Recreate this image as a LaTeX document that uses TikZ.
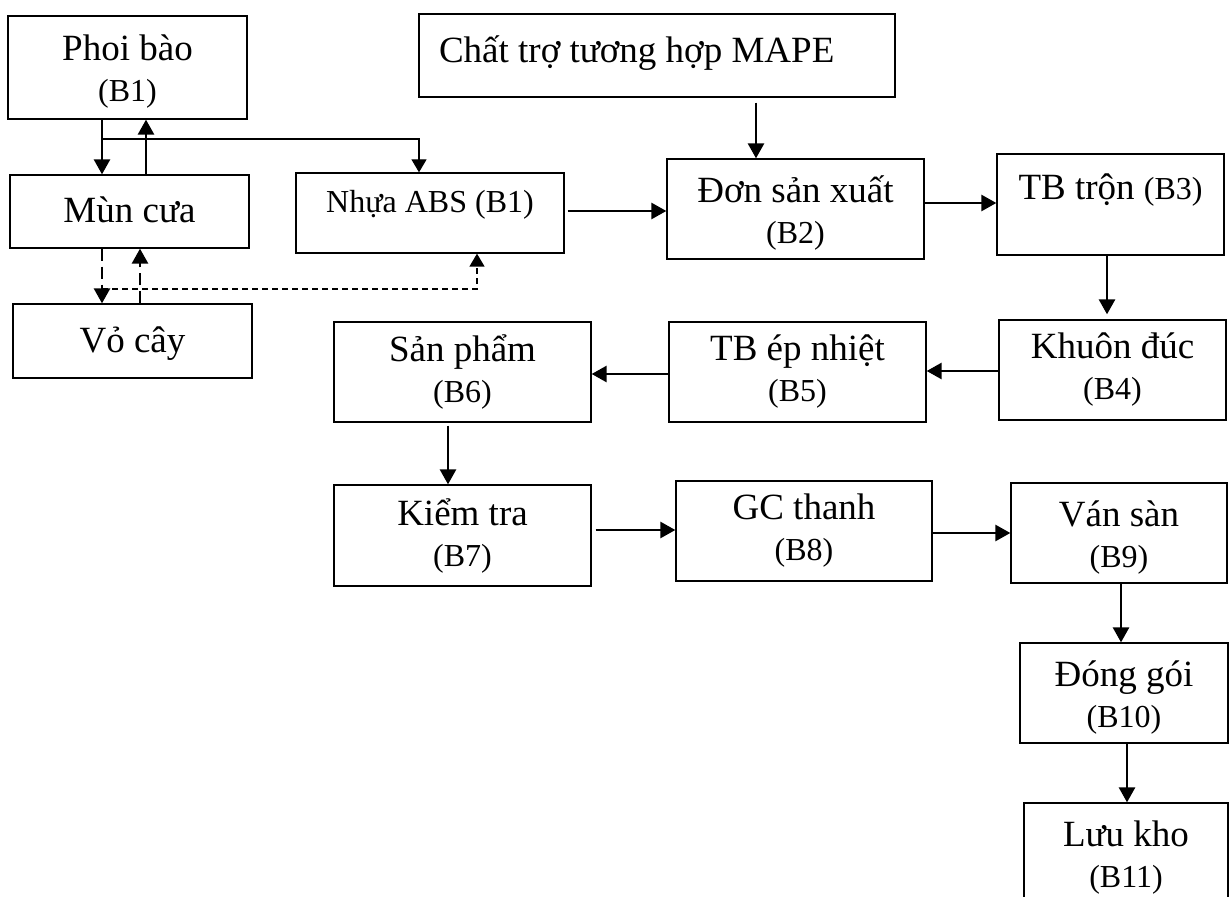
\documentclass[tikz,border=0pt]{standalone}
\usepackage{fontspec}
\setmainfont{Liberation Serif}
\usetikzlibrary{arrows.meta}
\newcommand{\mainsz}{\fontsize{18.5}{20.5}\selectfont}
\newcommand{\bsz}{\fontsize{16}{20.5}\selectfont}
\newcommand{\lnstrut}{\rule{0pt}{17pt}}
\tikzset{
  box/.style={draw, line width=0.65pt, inner sep=2pt, font=\mainsz},
  one/.style={text height=13.5pt, text depth=2pt},
  two/.style={align=center},
  arr/.style={-{Triangle[length=7.5pt,width=8pt]}, line width=1.35pt},
  thinarr/.style={-{Triangle[length=6.5pt,width=7.5pt]}, line width=0.65pt},
  dasharr/.style={arr, dash pattern=on 6pt off 3pt},
  dotarr/.style={thinarr, dash pattern=on 3pt off 2pt}
}
\begin{document}
\begin{tikzpicture}[x=0.5pt,y=-0.5pt]
    \useasboundingbox (0,0) rectangle (1229,897);
    \clip (0,0) rectangle (1229,897);
    \node[box,two,minimum width=119.5pt,minimum height=51.5pt] (phoi) at (127.5,67.5) {\lnstrut Phoi bào\\{\bsz(B1)}};
    \node[box,one,minimum width=119.5pt,minimum height=36.5pt] (mun) at (129.5,211.5) {Mùn cưa};
    \node[box,one,minimum width=119.5pt,minimum height=37pt] (vo) at (132.5,341) {Vỏ cây};
    \node[box,minimum width=134pt,minimum height=40pt,font=\bsz,text height=8pt,text depth=8pt] (nhua) at (430,213) {Nhựa ABS (B1)};
    \node[box,minimum width=238pt,minimum height=41.5pt,inner xsep=10pt,text height=11pt,text depth=3.5pt] (mape) at (657,55.5) {\makebox[218pt][l]{Chất trợ tương hợp MAPE}};
    \node[box,two,minimum width=128.5pt,minimum height=50pt] (don) at (795.5,209) {\lnstrut Đơn sản xuất\\{\bsz(B2)}};
    \node[box,minimum width=113.5pt,minimum height=50.5pt,text height=8pt,text depth=12.5pt] (tron) at (1110.5,204.5) {TB trộn {\bsz(B3)}};
    \node[box,two,minimum width=113.5pt,minimum height=50pt] (khuon) at (1112.5,370) {Khuôn đúc\\{\bsz(B4)}};
    \node[box,two,minimum width=128.5pt,minimum height=50pt] (ep) at (797.5,372) {TB ép nhiệt\\{\bsz(B5)}};
    \node[box,two,minimum width=128.5pt,minimum height=50pt] (sanpham) at (462.5,372) {Sản phẩm\\{\bsz(B6)}};
    \node[box,two,minimum width=128.5pt,minimum height=50.5pt] (kiemtra) at (462.5,535.5) {Kiểm tra\\{\bsz(B7)}};
    \node[box,two,minimum width=128pt,minimum height=50pt] (gc) at (804,531) {GC thanh\\{\bsz(B8)}};
    \node[box,two,minimum width=108pt,minimum height=50pt] (van) at (1119,533) {\lnstrut Ván sàn\\{\bsz(B9)}};
    \node[box,two,minimum width=104pt,minimum height=50pt] (donggoi) at (1124,693) {\lnstrut Đóng gói\\{\bsz(B10)}};
    \node[box,two,minimum width=102pt,minimum height=50pt] (luukho) at (1126,853) {\lnstrut Lưu kho\\{\bsz(B11)}};
    \coordinate (fork) at (102,139);
    \coordinate (fork2) at (102,289);
    \draw[arr] (phoi.south -| 102,0) -- (mun.north -| 102,0);
    \draw[arr] (mun.north -| 146,0) -- (phoi.south -| 146,0);
    \draw[thinarr] (fork) -| (nhua.north -| 419,0);
    \draw[dasharr] (mun.south -| 102,0) -- (vo.north -| 102,0);
    \draw[dasharr] (vo.north -| 140,0) -- (mun.south -| 140,0);
    \draw[dotarr] (fork2) -| (nhua.south -| 477,0);
    \draw[arr,shorten <=1.5pt] (nhua.east |- 0,211) -- (don.west |- 0,211);
    \draw[arr,shorten <=2.5pt] (mape.south -| 756,0) -- (don.north -| 756,0);
    \draw[arr] (don.east |- 0,203) -- (tron.west |- 0,203);
    \draw[arr,shorten >=2.5pt] (tron.south -| 1107,0) -- (khuon.north -| 1107,0);
    \draw[arr] (khuon.west |- 0,371) -- (ep.east |- 0,371);
    \draw[arr] (ep.west |- 0,374) -- (sanpham.east |- 0,374);
    \draw[arr,shorten <=1.5pt] (sanpham.south -| 448,0) -- (kiemtra.north -| 448,0);
    \draw[arr,shorten <=2pt] (kiemtra.east |- 0,530) -- (gc.west |- 0,530);
    \draw[arr] (gc.east |- 0,533) -- (van.west |- 0,533);
    \draw[arr] (van.south -| 1121,0) -- (donggoi.north -| 1121,0);
    \draw[arr] (donggoi.south -| 1127,0) -- (luukho.north -| 1127,0);
\end{tikzpicture}
\end{document}
